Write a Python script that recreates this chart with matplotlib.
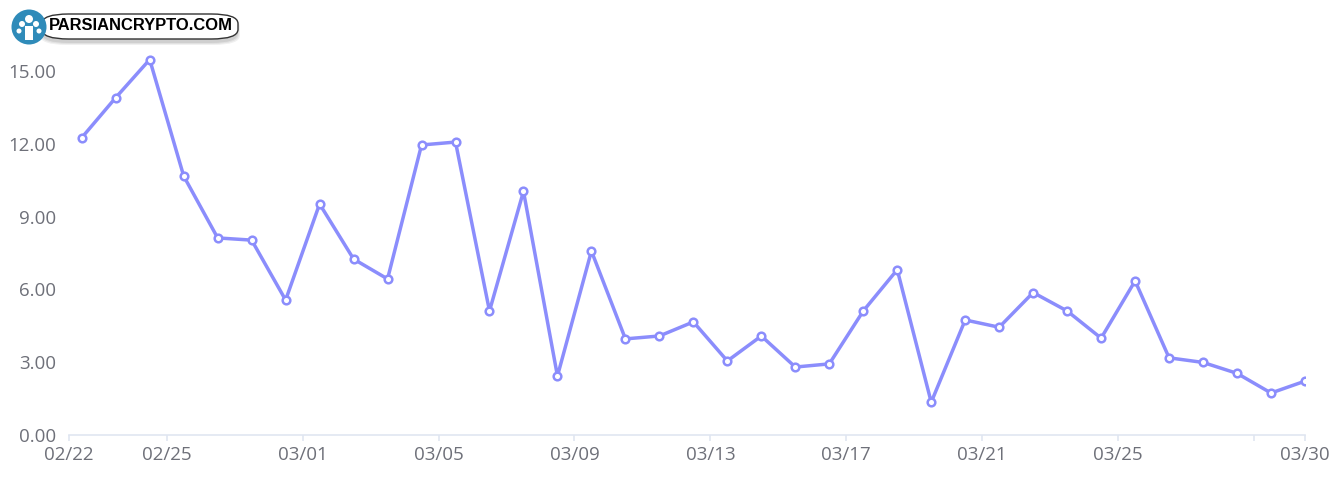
import pandas as pd
import matplotlib.pyplot as plt
import matplotlib.dates as mdates
from matplotlib.patches import Ellipse, FancyBboxPatch

# daily values, 02/22 .. 03/30
dates = pd.date_range('2023-02-22 12:00', '2023-03-30 12:00', freq='D')
values = [12.25, 13.90, 15.47, 10.67, 8.12, 8.03, 5.56, 9.52, 7.25, 6.43,
          11.95, 12.07, 5.11, 10.04, 2.43, 7.58, 3.96, 4.08, 4.66, 3.05,
          4.08, 2.80, 2.93, 5.11, 6.81, 1.35, 4.74, 4.44, 5.87, 5.11,
          3.99, 6.35, 3.18, 2.99, 2.54, 1.73, 2.22]

tick_dates = ['2023-02-22 03:00', '2023-02-25', '2023-03-01', '2023-03-05', '2023-03-09',
              '2023-03-13', '2023-03-17', '2023-03-21', '2023-03-25', '2023-03-29',
              '2023-03-30 12:00']
tick_labels = ['02/22', '02/25', '03/01', '03/05', '03/09', '03/13', '03/17',
               '03/21', '03/25', '', '03/30']
y_ticks = [0, 3, 6, 9, 12, 15]

line_color = '#8b8dfc'
text_color = '#6e7079'
axis_color = '#e0e6f1'

plt.rcParams['font.family'] = ['Open Sans', 'DejaVu Sans']

fig = plt.figure(figsize=(13.39, 4.78), dpi=100)
ax = fig.add_axes([69/1339, 1 - 435/478, (1305 - 69)/1339, (435 - 50)/478])

ax.plot(dates, values, color=line_color, lw=2.5, marker='o', ms=5.5,
        mfc='white', mec=line_color, mew=1.8, zorder=3)

ax.set_xlim(pd.Timestamp(tick_dates[0]), pd.Timestamp(tick_dates[-1]))
ax.set_ylim(0, (435 - 50) / 24.27)

ax.set_xticks([mdates.date2num(pd.Timestamp(d)) for d in tick_dates])
ax.set_xticklabels(tick_labels)
ax.set_yticks(y_ticks)
ax.set_yticklabels(['%.2f' % v for v in y_ticks])

for s in ['top', 'right', 'left']:
    ax.spines[s].set_visible(False)
ax.spines['bottom'].set_color(axis_color)
ax.spines['bottom'].set_linewidth(1.2)
ax.tick_params(axis='x', colors=axis_color, length=4, width=1.2, pad=4,
               labelcolor=text_color, labelsize=13.5)
ax.tick_params(axis='y', length=0, pad=9, labelcolor=text_color, labelsize=13.5)

# watermark logo (soft shadow, pill box, round icon, text)
for i, a in enumerate([0.06, 0.06, 0.08]):
    fig.add_artist(FancyBboxPatch(((40 + i)/1339, 1 - (45 - i)/478), (200 - 2*i)/1339, 28/478,
                                  boxstyle='round,pad=0,rounding_size=0.02',
                                  transform=fig.transFigure, fc='black', ec='none', alpha=a))
fig.add_artist(FancyBboxPatch((42/1339, 1 - 39/478), 196/1339, 25/478,
                              boxstyle='round,pad=0,rounding_size=0.02',
                              transform=fig.transFigure, fc='white', ec='#333333', lw=1.0))
fig.add_artist(Ellipse((29/1339, 1 - 27/478), 35/1339, 35/478,
                       transform=fig.transFigure, fc='#2f8bb9', ec='none'))
for cx, cy, r in [(29, 19, 4), (22, 24, 3), (36, 24, 3), (19, 31, 2.5), (39, 31, 2.5)]:
    fig.add_artist(Ellipse((cx/1339, 1 - cy/478), 2*r/1339, 2*r/478,
                           transform=fig.transFigure, fc='white', ec='none'))
fig.add_artist(FancyBboxPatch((25/1339, 1 - 40/478), 8/1339, 14/478,
                              boxstyle='square,pad=0', transform=fig.transFigure,
                              fc='white', ec='none'))
fig.text(49/1339, 1 - 26/478, 'PARSIANCRYPTO.COM', family='Liberation Sans',
         weight='bold', fontsize=11.9, color='black', va='center', ha='left')

fig.savefig('out.png', dpi=100)
